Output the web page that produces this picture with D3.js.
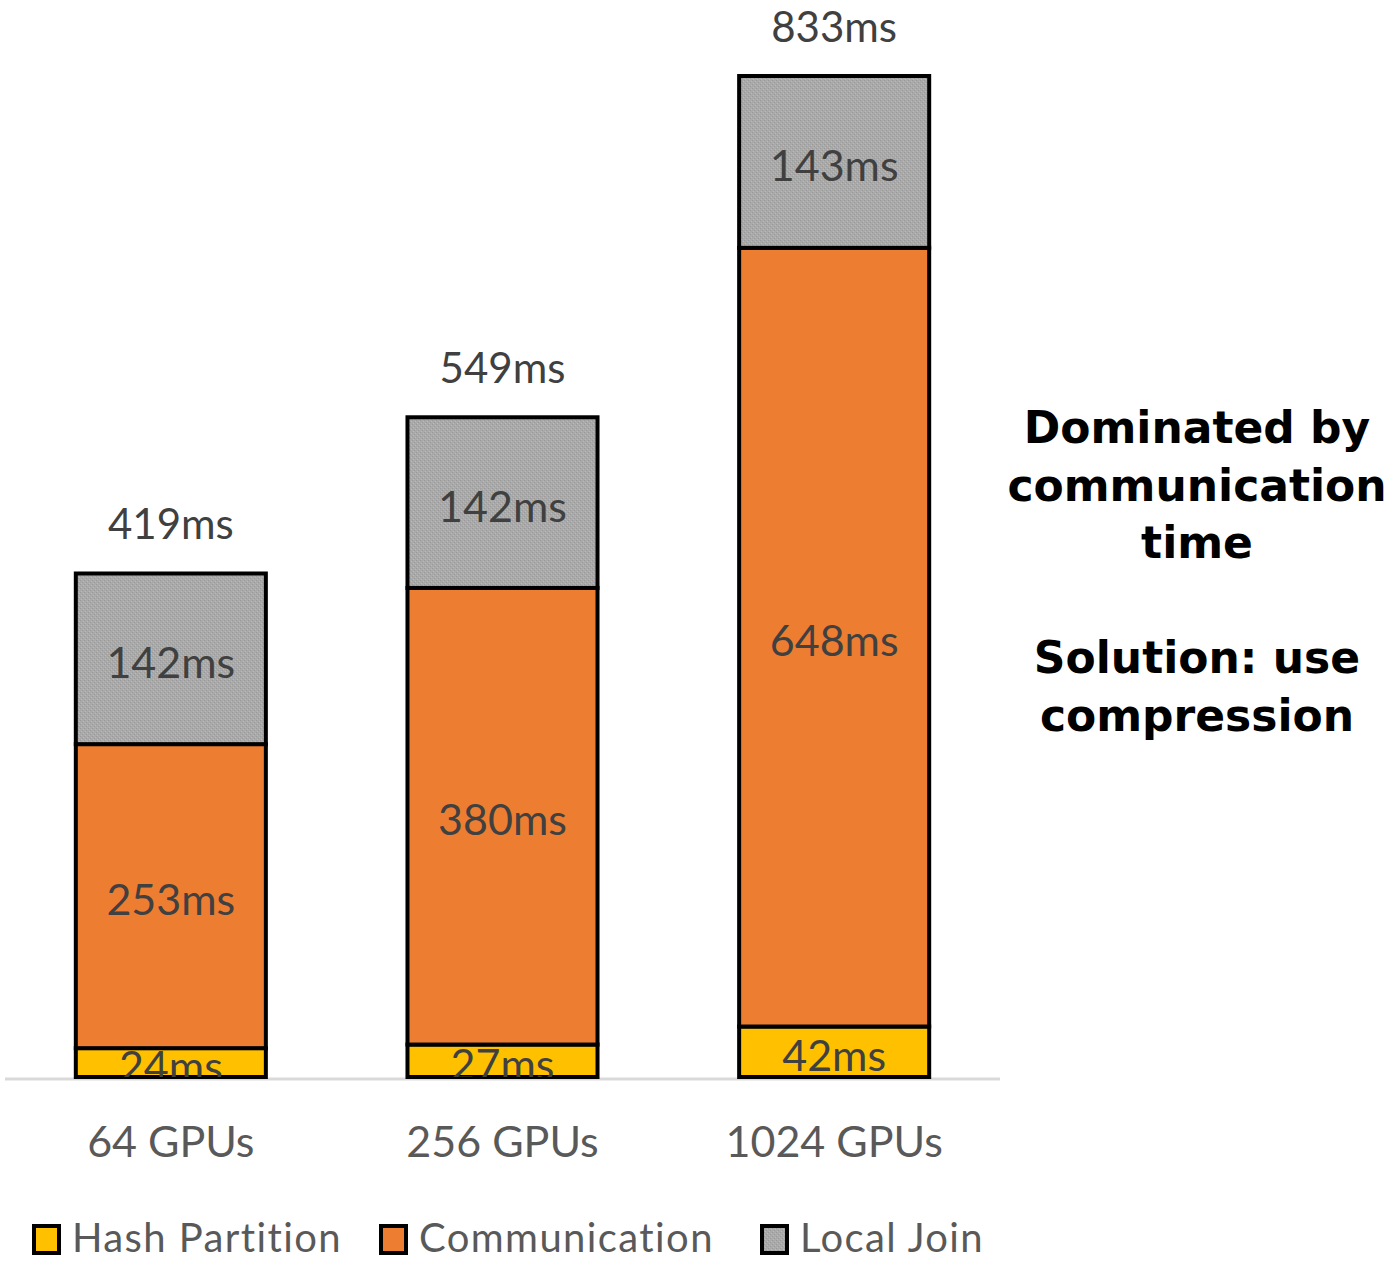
<!DOCTYPE html>
<html>
<head>
<meta charset="utf-8">
<script src="https://cdn.jsdelivr.net/npm/d3@7"></script>
<style>
  html, body { margin: 0; padding: 0; background: #fff; }
  svg { display: block; }
</style>
</head>
<body>
<svg id="chart" width="1391" height="1263"></svg>
<script>
// Join time breakdown per cluster size (milliseconds)
const categories = ["64 GPUs", "256 GPUs", "1024 GPUs"];
const seriesNames = ["Hash Partition", "Communication", "Local Join"];
const hashPartition = [24, 27, 42];
const communication = [253, 380, 648];
const localJoin = [142, 142, 143];
const totals = [419, 549, 833];
const noteLines = ["Dominated by", "communication", "time", "", "Solution: use", "compression"];

const colors = ["#FFC000", "#ED7D31", "url(#greyTexture)"];

const svg = d3.select("#chart");
const labelFont = "Lato, 'Open Sans', sans-serif";

// fine dithered texture for the Local Join segments
const defs = svg.append("defs");
const pat = defs.append("pattern")
  .attr("id", "greyTexture")
  .attr("patternUnits", "userSpaceOnUse")
  .attr("width", 4).attr("height", 4);
pat.append("rect").attr("width", 4).attr("height", 4).attr("fill", "#A9A9A9");
pat.append("rect").attr("x", 0).attr("y", 0).attr("width", 1).attr("height", 1).attr("fill", "#9A9A9A");
pat.append("rect").attr("x", 2).attr("y", 2).attr("width", 1).attr("height", 1).attr("fill", "#9A9A9A");
pat.append("rect").attr("x", 1).attr("y", 3).attr("width", 1).attr("height", 1).attr("fill", "#BBBBBB");
pat.append("rect").attr("x", 3).attr("y", 1).attr("width", 1).attr("height", 1).attr("fill", "#BBBBBB");

const x = d3.scaleBand()
  .domain(categories)
  .range([5, 1000])
  .paddingInner(0.427)
  .paddingOuter(0.2135);

const y = d3.scaleLinear()
  .domain([0, 833])
  .range([1077, 76]);

// clip so labels near the baseline are cut at the axis
defs.append("clipPath").attr("id", "plotClip")
  .append("rect").attr("x", 0).attr("y", 0).attr("width", 1000).attr("height", y(0));

// stacked data
const rows = categories.map((c, i) => ({
  cat: c,
  "Hash Partition": hashPartition[i],
  "Communication": communication[i],
  "Local Join": localJoin[i]
}));
const stack = d3.stack().keys(seriesNames)(rows);

// baseline axis
svg.append("line")
  .attr("x1", 5).attr("x2", 1000)
  .attr("y1", y(0) + 2).attr("y2", y(0) + 2)
  .attr("stroke", "#D9D9D9").attr("stroke-width", 3);

const layers = svg.append("g").selectAll("g")
  .data(stack).join("g")
  .attr("fill", (d, i) => colors[i]);

layers.selectAll("rect")
  .data(d => d)
  .join("rect")
  .attr("x", d => x(d.data.cat))
  .attr("y", d => y(d[1]))
  .attr("width", x.bandwidth())
  .attr("height", d => y(d[0]) - y(d[1]))
  .attr("stroke", "#000")
  .attr("stroke-width", 4);

// segment value labels
const segLabels = svg.append("g").attr("clip-path", "url(#plotClip)");
stack.forEach((layer) => {
  layer.forEach(d => {
    segLabels.append("text")
      .attr("x", x(d.data.cat) + x.bandwidth() / 2)
      .attr("y", (y(d[0]) + y(d[1])) / 2 + 19)
      .attr("text-anchor", "middle")
      .attr("font-family", labelFont)
      .attr("font-size", 43)
      .attr("fill", "#404040")
      .text((d[1] - d[0]) + "ms");
  });
});

// totals above bars
svg.append("g").selectAll("text")
  .data(categories)
  .join("text")
  .attr("x", d => x(d) + x.bandwidth() / 2)
  .attr("y", (d, i) => y(totals[i]) - 34)
  .attr("text-anchor", "middle")
  .attr("font-family", labelFont)
  .attr("font-size", 42)
  .attr("fill", "#404040")
  .text((d, i) => totals[i] + "ms");

// category axis labels
svg.append("g").selectAll("text")
  .data(categories)
  .join("text")
  .attr("x", d => x(d) + x.bandwidth() / 2)
  .attr("y", 1157)
  .attr("text-anchor", "middle")
  .attr("font-family", labelFont)
  .attr("font-size", 43)
  .attr("fill", "#595959")
  .text(d => d);

// legend
const legendX = [34, 381, 762];
const lg = svg.append("g").selectAll("g")
  .data(seriesNames)
  .join("g")
  .attr("transform", (d, i) => `translate(${legendX[i]},1226)`);
lg.append("rect")
  .attr("width", 25).attr("height", 27)
  .attr("fill", (d, i) => colors[i])
  .attr("stroke", "#000").attr("stroke-width", 4);
lg.append("text")
  .attr("x", 38).attr("y", 26)
  .attr("font-family", labelFont)
  .attr("font-size", 40)
  .attr("letter-spacing", 1.4)
  .attr("fill", "#595959")
  .text(d => d);

// note on the right
svg.append("g").selectAll("text")
  .data(noteLines)
  .join("text")
  .attr("x", 1197)
  .attr("y", (d, i) => 443 + i * 57.5)
  .attr("text-anchor", "middle")
  .attr("font-family", "'DejaVu Sans', sans-serif")
  .attr("font-weight", "bold")
  .attr("font-size", 44)
  .attr("fill", "#000")
  .text(d => d);
</script>
</body>
</html>
